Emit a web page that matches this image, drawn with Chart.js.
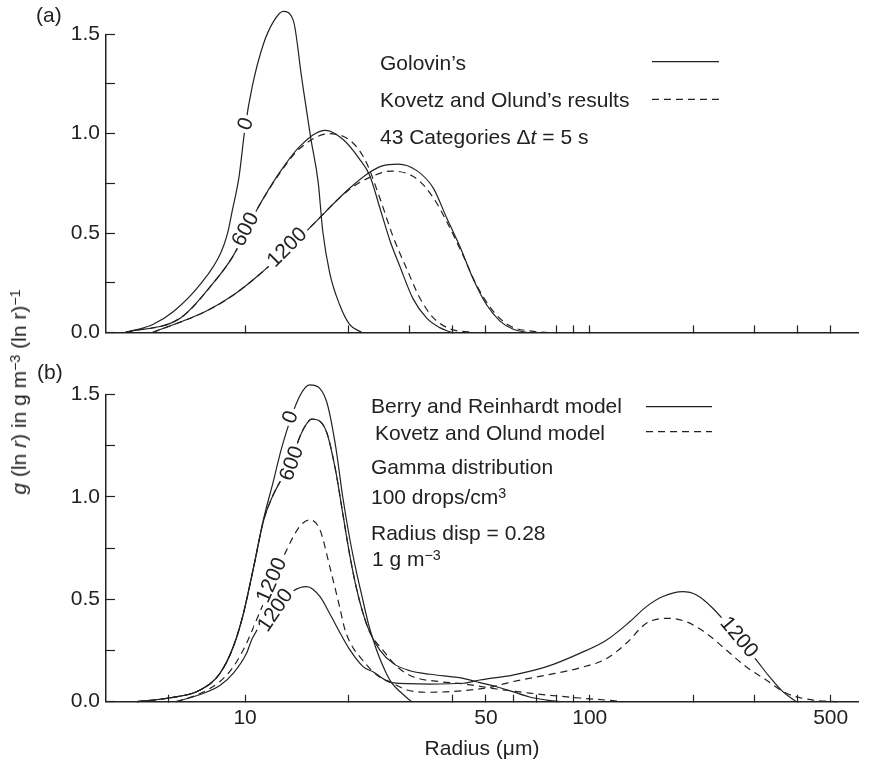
<!DOCTYPE html>
<html>
<head>
<meta charset="utf-8">
<script src="https://cdn.jsdelivr.net/npm/chart.js@4.4.0/dist/chart.umd.min.js"></script>
<style>
  body { margin: 0; background: #fff; }
  #wrap { position: relative; width: 880px; height: 767px; font-family: "Liberation Sans", Arial, sans-serif; color: #222; }
  canvas { position: absolute; left: 0; }
  .t { position: absolute; font-size: 21px; line-height: 24px; white-space: nowrap; }
  .sup { position: relative; top: -0.45em; font-size: 0.68em; }
</style>
</head>
<body>
<div id="wrap">
  <canvas id="chartA" width="880" height="360" style="top:0"></canvas>
  <canvas id="chartB" width="880" height="407" style="top:360px"></canvas>

  <div class="t" style="left:36px;top:3px">(a)</div>
  <div class="t" style="left:37px;top:360px">(b)</div>
  <div class="t" style="left:20px;top:392px;transform:translate(-50%,-50%) rotate(-90deg)"><i>g</i> (ln <i>r</i>) in g m<span class="sup">−3</span> (ln r)<span class="sup">−1</span></div>

  <div class="t" style="left:380px;top:51px">Golovin’s</div>
  <div class="t" style="left:380px;top:88px">Kovetz and Olund’s results</div>
  <div class="t" style="left:380px;top:125px">43 Categories Δ<i>t</i> = 5 s</div>

  <div class="t" style="left:371px;top:394px">Berry and Reinhardt model</div>
  <div class="t" style="left:375px;top:421px">Kovetz and Olund model</div>
  <div class="t" style="left:371px;top:455px">Gamma distribution</div>
  <div class="t" style="left:371px;top:485px">100 drops/cm<span class="sup">3</span></div>
  <div class="t" style="left:371px;top:521px">Radius disp = 0.28</div>
  <div class="t" style="left:372px;top:547px">1 g m<span class="sup">−3</span></div>
</div>

<script>
// axis ticks
const xTicksA = [10, 20, 30, 40, 50, 80, 90, 100, 200, 300, 400, 500];
const xTicksB = [6, 10, 20, 40, 50, 60, 70, 80, 90, 100, 200, 300, 400, 500];
const xLabelsB = [10, 50, 100, 500];

// (a) Golovin (solid) and Kovetz & Olund (dashed), t = 0, 600, 1200 s
const aGol0X = [4.5, 5.4, 6.2, 7.4, 8.5, 8.9, 9.2, 9.6, 10.0, 10.5, 11.3, 12.1, 12.9, 13.8, 14.6, 15.5, 16.3, 16.8, 17.6, 18.8, 20.1, 21.8];
const aGol0Y = [0, 0.04, 0.105, 0.24, 0.40, 0.50, 0.62, 0.78, 1.03, 1.24, 1.45, 1.565, 1.615, 1.57, 1.28, 0.98, 0.755, 0.51, 0.30, 0.14, 0.04, 0];

const aGol600X = [4.5, 6.5, 8.1, 9.2, 10.9, 12.6, 14.4, 17.1, 19.3, 21.5, 23.0, 24.6, 26.3, 28.1, 30.7, 33.6, 36.7, 39.7];
const aGol600Y = [0, 0.073, 0.25, 0.38, 0.627, 0.805, 0.935, 1.017, 0.969, 0.871, 0.79, 0.627, 0.464, 0.334, 0.17, 0.073, 0.024, 0];
const aKO600X = [4.5, 6.5, 8.1, 9.2, 10.9, 12.6, 14.4, 17.6, 20.6, 22.5, 24.6, 26.9, 29.5, 32.2, 35.2, 39.3, 45.8];
const aKO600Y = [0, 0.073, 0.25, 0.38, 0.627, 0.80, 0.925, 1.00, 0.952, 0.854, 0.676, 0.48, 0.317, 0.171, 0.073, 0.018, 0];

const aGol1200X = [5.4, 7.7, 9.25, 10.9, 14.8, 20.1, 23.0, 25.0, 27.8, 31.5, 35.2, 38.4, 42.0, 45.9, 50.2, 54.9, 60.0, 65.6];
const aGol1200Y = [0, 0.106, 0.188, 0.285, 0.497, 0.725, 0.806, 0.838, 0.847, 0.814, 0.725, 0.578, 0.432, 0.269, 0.139, 0.057, 0.016, 0];
const aKO1200X = [5.4, 7.7, 9.25, 10.9, 14.8, 20.1, 23.0, 26.6, 31.5, 35.2, 38.4, 43.0, 47.0, 52.5, 58.6, 68.5, 74.9];
const aKO1200Y = [0, 0.106, 0.188, 0.285, 0.497, 0.72, 0.78, 0.812, 0.773, 0.676, 0.56, 0.383, 0.236, 0.106, 0.033, 0.005, 0];

// (b) Berry & Reinhardt (solid) and Kovetz & Olund (dashed)
const bBR0X = [4.86, 6.0, 7.41, 8.47, 9.25, 9.89, 10.6, 11.3, 12.1, 12.8, 14.4, 15.4, 17.2, 18.3, 19.2, 20.1, 21.0, 21.8, 22.8, 24.1, 25.5, 26.6, 28.5, 30.4];
const bBR0Y = [0, 0.018, 0.057, 0.14, 0.269, 0.43, 0.66, 0.887, 1.08, 1.245, 1.49, 1.546, 1.47, 1.25, 1.0, 0.80, 0.64, 0.52, 0.38, 0.25, 0.15, 0.093, 0.041, 0];

const bBR600X = [4.86, 6.0, 7.41, 8.47, 9.25, 9.89, 10.6, 11.3, 12.0, 12.6, 13.6, 14.4, 15.0, 15.6, 17.2, 18.3, 19.2, 20.1, 21.0, 22.0, 23.0, 24.6, 26.9, 30.1, 34.4, 42.9, 48.0, 53.7, 59.8, 66.9, 75.0, 81.8];
const bBR600Y = [0, 0.018, 0.057, 0.14, 0.269, 0.43, 0.66, 0.88, 1.0, 1.07, 1.17, 1.29, 1.35, 1.379, 1.32, 1.13, 0.92, 0.72, 0.56, 0.43, 0.34, 0.252, 0.187, 0.151, 0.134, 0.114, 0.093, 0.073, 0.049, 0.023, 0.008, 0];
const bKO600X = [4.86, 6.0, 7.41, 8.47, 9.25, 9.89, 10.6, 11.3, 12.0, 12.6, 13.6, 14.4, 15.0, 15.6, 17.2, 18.3, 19.2, 20.1, 21.0, 22.0, 23.0, 25.1, 27.6, 30.7, 36.7, 42.9, 48.0, 53.7, 59.8, 66.9, 75.0, 93.5, 116.7, 124.7];
const bKO600Y = [0, 0.018, 0.057, 0.14, 0.269, 0.43, 0.66, 0.88, 1.0, 1.07, 1.17, 1.29, 1.35, 1.379, 1.32, 1.13, 0.92, 0.72, 0.56, 0.43, 0.34, 0.252, 0.171, 0.122, 0.098, 0.087, 0.075, 0.062, 0.052, 0.042, 0.033, 0.018, 0.005, 0];

const bBR1200X = [6.3, 7.41, 8.47, 9.25, 10.1, 10.5, 13.8, 15.1, 16.5, 17.6, 18.8, 20.1, 22.0, 23.5, 26.6, 34.4, 42.9, 48.0, 59.8, 75.0, 93.5, 111.7, 130.6, 146, 163, 186, 204, 227.5, 304, 332, 363, 397];
const bBR1200Y = [0, 0.035, 0.08, 0.139, 0.236, 0.31, 0.54, 0.562, 0.513, 0.43, 0.34, 0.255, 0.171, 0.146, 0.093, 0.086, 0.09, 0.106, 0.13, 0.171, 0.236, 0.30, 0.39, 0.464, 0.513, 0.537, 0.521, 0.456, 0.204, 0.122, 0.049, 0];
const bKO1200X = [6.3, 7.41, 8.47, 9.25, 10.1, 10.8, 13.2, 14.4, 15.4, 16.5, 17.6, 18.8, 19.5, 20.3, 22.0, 24.1, 26.6, 29.5, 34.4, 42.9, 51.3, 59.8, 75.0, 93.5, 111.7, 127.7, 146, 168.6, 190.6, 217.8, 249, 284, 325, 372, 444, 531];
const bKO1200Y = [0, 0.04, 0.10, 0.171, 0.285, 0.40, 0.74, 0.855, 0.887, 0.838, 0.66, 0.464, 0.35, 0.28, 0.20, 0.13, 0.093, 0.057, 0.046, 0.054, 0.07, 0.098, 0.13, 0.165, 0.21, 0.285, 0.383, 0.407, 0.39, 0.334, 0.252, 0.171, 0.106, 0.041, 0.008, 0];

// time labels written along the curves (data coords)
const curveLabelsA = [
  { text: "0", x: 10.0, y: 1.05, rot: -70 },
  { text: "600", x: 10.0, y: 0.52, rot: -62 },
  { text: "1200", x: 13.2, y: 0.43, rot: -45 },
];
const curveLabelsB = [
  { text: "0", x: 13.5, y: 1.39, rot: -70 },
  { text: "600", x: 13.6, y: 1.164, rot: -70 },
  { text: "1200", x: 11.9, y: 0.594, rot: -66 },
  { text: "1200", x: 12.2, y: 0.448, rot: -56 },
  { text: "1200", x: 272, y: 0.317, rot: 50 },
];

const INK = "#222";
Chart.defaults.font.family = '"Liberation Sans", Arial, sans-serif';
Chart.defaults.font.size = 21;
Chart.defaults.color = INK;

function series(xs, ys, dashed) {
  return {
    data: xs.map((x, i) => ({ x: x, y: ys[i] })),
    borderColor: INK,
    borderWidth: 1.2,
    borderDash: dashed ? [7, 5] : [],
    pointRadius: 0,
    cubicInterpolationMode: "monotone",
    clip: false,
    fill: false,
  };
}

// curve labels (white gap + rotated text) and legend line samples
function textPlugin(labels, keys) {
  return {
    id: "curveText",
    afterDatasetsDraw(chart) {
      const ctx = chart.ctx;
      const sx = chart.scales.x;
      const sy = chart.scales.y;
      ctx.save();
      ctx.font = '21px "Liberation Sans", Arial, sans-serif';
      ctx.textAlign = "center";
      ctx.textBaseline = "middle";
      labels.forEach((l) => {
        const w = ctx.measureText(l.text).width;
        ctx.save();
        ctx.translate(sx.getPixelForValue(l.x), sy.getPixelForValue(l.y));
        ctx.rotate((l.rot * Math.PI) / 180);
        ctx.fillStyle = "#fff";
        ctx.fillRect(-w / 2 - 3, -8, w + 6, 16);
        ctx.fillStyle = INK;
        ctx.fillText(l.text, 0, 1);
        ctx.restore();
      });
      keys.forEach((k) => {
        ctx.beginPath();
        ctx.setLineDash(k.dashed ? [7, 5] : []);
        ctx.lineWidth = 1.2;
        ctx.strokeStyle = INK;
        ctx.moveTo(k.x0, k.y);
        ctx.lineTo(k.x1, k.y);
        ctx.stroke();
      });
      ctx.restore();
    },
  };
}

function buildChart(id, datasets, tickVals, tickLabels, labels, keys, bottomH, title) {
  return new Chart(document.getElementById(id).getContext("2d"), {
    type: "line",
    data: { datasets: datasets },
    options: {
      responsive: false,
      animation: false,
      events: [],
      layout: { padding: { top: 34.3, right: 22, left: 0, bottom: 0 } },
      plugins: { legend: { display: false }, tooltip: { enabled: false } },
      scales: {
        x: {
          type: "logarithmic",
          min: 3.95,
          max: 600,
          afterBuildTicks: (s) => {
            s.ticks = tickVals.map((v) => ({ value: v }));
          },
          afterFit: (s) => {
            s.height = bottomH;
          },
          grid: { drawOnChartArea: false, tickLength: -7, tickColor: INK, tickWidth: 1.2 },
          border: { color: INK, width: 1.5 },
          ticks: {
            autoSkip: false,
            maxRotation: 0,
            padding: 11,
            callback: (v) => (tickLabels.includes(v) ? String(v) : ""),
          },
          title: title
            ? { display: true, text: title, padding: { top: 0, bottom: 5 }, color: INK }
            : { display: false },
        },
        y: {
          min: 0,
          max: 1.5,
          afterFit: (s) => {
            s.width = 106;
          },
          grid: { drawOnChartArea: false, tickLength: -9, tickColor: INK, tickWidth: 1.2 },
          border: { color: INK, width: 1.5 },
          ticks: {
            stepSize: 0.25,
            autoSkip: false,
            padding: 15,
            callback: (v) => (Math.abs(v * 2 - Math.round(v * 2)) < 1e-6 ? v.toFixed(1) : ""),
          },
        },
      },
    },
    plugins: [textPlugin(labels, keys)],
  });
}

// panel (a)
let chartA = buildChart(
  "chartA",
  [
    series(aGol0X, aGol0Y, false),
    series(aGol600X, aGol600Y, false),
    series(aKO600X, aKO600Y, true),
    series(aGol1200X, aGol1200Y, false),
    series(aKO1200X, aKO1200Y, true),
  ],
  xTicksA,
  [],
  curveLabelsA,
  [
    { x0: 652, x1: 719, y: 61.7, dashed: false },
    { x0: 652, x1: 719, y: 99.3, dashed: true },
  ],
  18.3,
  null
);

// panel (b)
let chartB = buildChart(
  "chartB",
  [
    series(bBR0X, bBR0Y, false),
    series(bBR600X, bBR600Y, false),
    series(bKO600X, bKO600Y, true),
    series(bBR1200X, bBR1200Y, false),
    series(bKO1200X, bKO1200Y, true),
  ],
  xTicksB,
  xLabelsB,
  curveLabelsB,
  [
    { x0: 646, x1: 712, y: 46.7, dashed: false },
    { x0: 646, x1: 712, y: 71.7, dashed: true },
  ],
  65.3,
  "Radius (μm)"
);
</script>
</body>
</html>
